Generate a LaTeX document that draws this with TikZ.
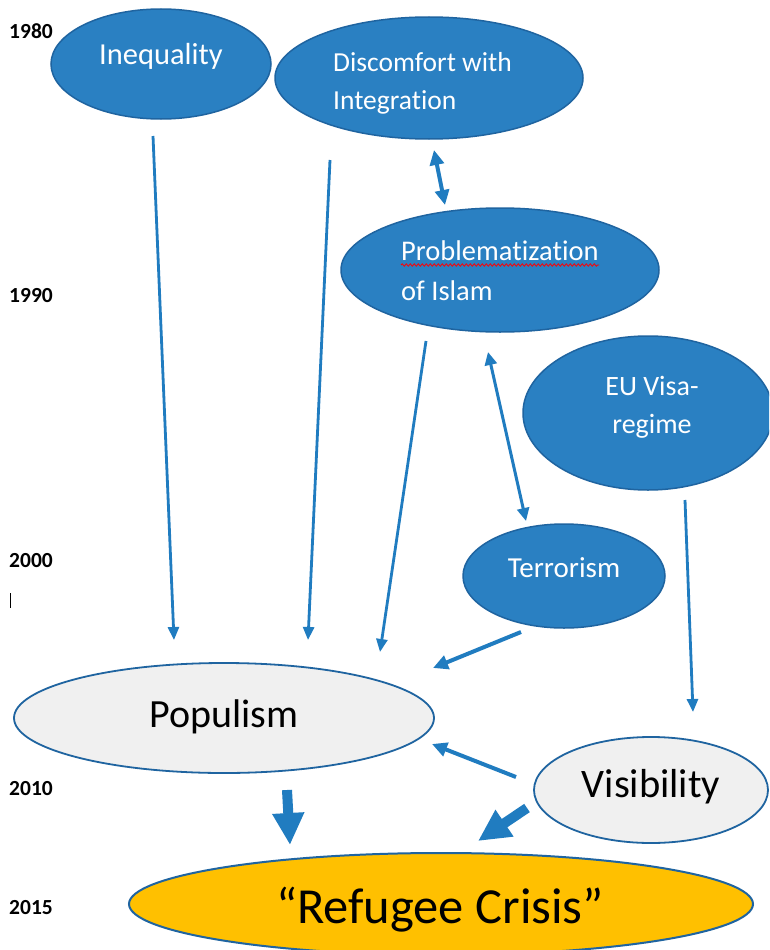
\documentclass[tikz,border=0pt]{standalone}
\usepackage{fontspec}
\setmainfont{Carlito}[Ligatures=NoCommon]
\usetikzlibrary{shapes.geometric,arrows.meta,decorations.pathmorphing}
\definecolor{fillblue}{RGB}{42,128,194}
\definecolor{edgeblue}{RGB}{31,100,160}
\definecolor{arrblue}{RGB}{32,124,192}
\definecolor{lightfill}{RGB}{240,240,240}
\definecolor{gold}{RGB}{255,192,0}
\tikzset{
  blueell/.style={ellipse, fill=fillblue, draw=edgeblue, line width=1.5pt, inner sep=0pt},
  grayell/.style={ellipse, fill=lightfill, draw=edgeblue, line width=1.8pt, inner sep=0pt},
  goldell/.style={ellipse, fill=gold, draw=edgeblue, line width=2pt, inner sep=0pt},
  wtxt/.style={text=white, inner sep=0pt},
  btxt/.style={text=black, inner sep=0pt},
  year/.style={text=black, inner sep=0pt, anchor=base west, font=\fontsize{21.5}{24}\selectfont\bfseries},
  thinarr/.style={draw=arrblue, line width=2.8pt, -{Triangle[length=13pt,width=11pt]}},
  medarr/.style={draw=arrblue, line width=4pt, -{Triangle[length=15pt,width=14pt]}},
  dblarr/.style={draw=arrblue, line width=3pt, {Triangle[length=13pt,width=12pt]}-{Triangle[length=13pt,width=12pt]}},
  dblarrthick/.style={draw=arrblue, line width=4pt, {Triangle[length=15pt,width=14pt]}-{Triangle[length=15pt,width=14pt]}},
  bigarr/.style={draw=arrblue, line width=10pt, -{Triangle[length=32pt,width=30pt]}},
}
\begin{document}
\begin{tikzpicture}[x=1pt,y=-1pt]
\useasboundingbox (0,0) rectangle (769,950);
\clip (0,0) rectangle (769,950);
\fill[white] (0,0) rectangle (769,950);

% years
\node[year] (y1980) at (9,38) {1980};
\node[year] (y1990) at (9,302) {1990};
\node[year] (y2000) at (9,567) {2000};
\node[year] (y2010) at (9,795) {2010};
\node[year] (y2015) at (9,914) {2015};
\coordinate (cursA) at (10.5,593);
\coordinate (cursB) at (10.5,608);
\draw[black, line width=1.2pt] (cursA) -- (cursB);

% ellipses
\node[blueell, minimum width=220pt, minimum height=110pt] (ineq) at (161,64) {};
\node[blueell, minimum width=308pt, minimum height=122pt] (disc) at (429,78) {};
\node[blueell, minimum width=318pt, minimum height=124pt] (prob) at (500,270) {};
\node[blueell, minimum width=250pt, minimum height=154pt] (visa) at (648,413) {};
\node[blueell, minimum width=202pt, minimum height=104pt] (terr) at (564,576) {};
\node[grayell, minimum width=420pt, minimum height=110pt] (popu) at (224,718) {};
\node[grayell, minimum width=234pt, minimum height=106pt] (visi) at (651,790) {};
\node[goldell, minimum width=624pt, minimum height=102pt] (refu) at (441,904) {};

% texts
\node[wtxt, anchor=base, font=\fontsize{30.5}{36}\selectfont] (ineqT) at (161,65) {Inequality};
\node[wtxt, anchor=base west, font=\fontsize{27.5}{38}\selectfont] (discT1) at (333,71) {Discomfort with};
\node[wtxt, anchor=base west, font=\fontsize{27.5}{38}\selectfont] (discT2) at (333,109) {Integration};
\node[wtxt, anchor=base west, font=\fontsize{28.5}{40}\selectfont] (probT1) at (401,260) {Problematization};
\node[wtxt, anchor=base west, font=\fontsize{28.5}{40}\selectfont] (probT2) at (401,300) {of Islam};
\node[wtxt, anchor=base, font=\fontsize{28}{38}\selectfont] (visaT1) at (652,395) {EU Visa-};
\node[wtxt, anchor=base, font=\fontsize{28}{38}\selectfont] (visaT2) at (652,433) {regime};
\node[wtxt, anchor=base, font=\fontsize{29}{32}\selectfont] (terrT) at (564,577) {Terrorism};
\node[btxt, anchor=base, font=\fontsize{40}{48}\selectfont] (popuT) at (224,727) {Populism};
\node[btxt, anchor=base, font=\fontsize{40.5}{48}\selectfont] (visiT) at (651,797) {Visibility};
\node[btxt, anchor=base, font=\fontsize{50.5}{60}\selectfont] (refuT) at (440,923) {“Refugee Crisis”};

% red wavy underline
\coordinate (wavA) at (401,265);
\coordinate (wavB) at (599,265);
\draw[red, line width=0.8pt, decorate, decoration={snake, amplitude=1.2pt, segment length=4pt}] (wavA) -- (wavB);

% arrow end points
\coordinate (a1s) at (153,136); \coordinate (a1e) at (174,640);
\coordinate (a2s) at (330,160); \coordinate (a2e) at (308,640);
\coordinate (a3s) at (434,150); \coordinate (a3e) at (445,205);
\coordinate (a4s) at (426,341); \coordinate (a4e) at (380,652);
\coordinate (a5s) at (488,352); \coordinate (a5e) at (526,521);
\coordinate (a6s) at (685,500); \coordinate (a6e) at (693,712);
\coordinate (a7s) at (521,632); \coordinate (a7e) at (433,668);
\coordinate (a8s) at (516,777); \coordinate (a8e) at (432,744);
\coordinate (a9s) at (287,790); \coordinate (a9e) at (290,845);
\coordinate (a10s) at (527,808); \coordinate (a10e) at (478,841);

\draw[thinarr] (a1s) -- (a1e);
\draw[thinarr] (a2s) -- (a2e);
\draw[dblarrthick] (a3s) -- (a3e);
\draw[thinarr] (a4s) -- (a4e);
\draw[dblarr] (a5s) -- (a5e);
\draw[thinarr] (a6s) -- (a6e);
\draw[medarr] (a7s) -- (a7e);
\draw[medarr] (a8s) -- (a8e);
\draw[bigarr] (a9s) -- (a9e);
\draw[bigarr] (a10s) -- (a10e);
\end{tikzpicture}
\end{document}
